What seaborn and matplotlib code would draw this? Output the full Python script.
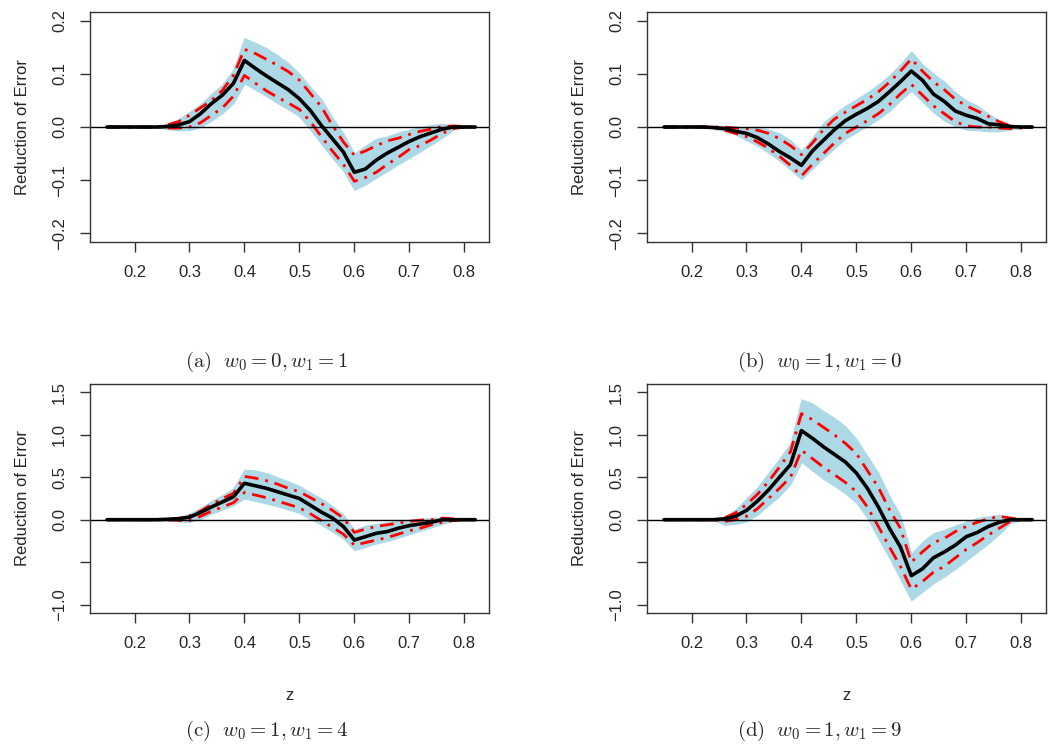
import numpy as np
import pandas as pd
import matplotlib
matplotlib.use('Agg')
import matplotlib.pyplot as plt
import seaborn as sns

# grid of z values
z = [0.15, 0.20, 0.22, 0.24, 0.26, 0.28, 0.30, 0.32, 0.34, 0.36, 0.38, 0.40,
     0.42, 0.44, 0.46, 0.48, 0.50, 0.52, 0.54, 0.56, 0.58, 0.60, 0.62, 0.64,
     0.66, 0.68, 0.70, 0.72, 0.74, 0.76, 0.78, 0.80, 0.82]

# (a) w0=0, w1=1
a_mean = [0, 0, 0, 0, 0.001, 0.004, 0.010, 0.025, 0.044, 0.060, 0.082, 0.125,
          0.110, 0.096, 0.083, 0.070, 0.053, 0.031, 0.003, -0.022, -0.047, -0.085, -0.079, -0.062,
          -0.049, -0.038, -0.027, -0.018, -0.011, -0.004, 0, 0, 0]
a_red_hi = [0, 0, 0, 0, 0.004, 0.010, 0.022, 0.036, 0.050, 0.069, 0.097, 0.146,
            0.138, 0.127, 0.116, 0.104, 0.088, 0.063, 0.038, 0.003, -0.028, -0.053, -0.045, -0.035,
            -0.026, -0.021, -0.014, -0.008, -0.004, 0.001, 0.002, 0.001, 0]
a_red_lo = [0, 0, 0, 0, -0.002, -0.002, 0.000, 0.008, 0.022, 0.036, 0.058, 0.097,
            0.082, 0.068, 0.056, 0.045, 0.033, 0.010, -0.018, -0.045, -0.070, -0.102, -0.095, -0.085,
            -0.070, -0.057, -0.042, -0.035, -0.024, -0.012, -0.003, 0, 0]
a_band_hi = [0, 0, 0, 0, 0.006, 0.015, 0.028, 0.043, 0.062, 0.080, 0.108, 0.167,
             0.158, 0.148, 0.135, 0.120, 0.100, 0.075, 0.052, 0.018, -0.012, -0.050, -0.035, -0.022,
             -0.018, -0.010, -0.005, 0.000, 0.004, 0.006, 0.002, 0, 0]
a_band_lo = [0, 0, 0, 0, -0.004, -0.006, -0.006, 0.000, 0.012, 0.026, 0.045, 0.082,
             0.070, 0.058, 0.045, 0.033, 0.020, -0.005, -0.032, -0.058, -0.082, -0.118, -0.108, -0.095,
             -0.083, -0.070, -0.058, -0.046, -0.033, -0.020, -0.005, 0, 0]

# (b) w0=1, w1=0
b_mean = [0, 0, 0, -0.001, -0.003, -0.008, -0.012, -0.020, -0.032, -0.046, -0.058, -0.072,
          -0.045, -0.025, -0.005, 0.012, 0.024, 0.035, 0.048, 0.066, 0.085, 0.105, 0.088, 0.062,
          0.048, 0.030, 0.022, 0.016, 0.006, 0.004, 0.001, 0, 0]
b_red_hi = [0, 0, 0, 0, 0.000, -0.002, -0.003, -0.006, -0.012, -0.022, -0.035, -0.052,
            -0.030, -0.005, 0.015, 0.028, 0.040, 0.052, 0.066, 0.084, 0.105, 0.128, 0.105, 0.085,
            0.070, 0.052, 0.040, 0.030, 0.020, 0.010, 0.002, 0.000, 0]
b_red_lo = [0, 0, 0, -0.002, -0.006, -0.012, -0.018, -0.028, -0.040, -0.055, -0.072, -0.092,
            -0.070, -0.050, -0.030, -0.012, 0.000, 0.012, 0.025, 0.042, 0.062, 0.080, 0.060, 0.040,
            0.025, 0.010, 0.002, 0.000, 0.000, -0.002, -0.003, -0.002, 0]
b_band_hi = [0, 0, 0, 0.001, 0.002, 0.000, -0.001, 0.000, -0.005, -0.012, -0.025, -0.045,
             -0.020, 0.008, 0.025, 0.040, 0.052, 0.065, 0.080, 0.097, 0.118, 0.142, 0.118, 0.100,
             0.085, 0.065, 0.050, 0.040, 0.025, 0.012, 0.003, 0, 0]
b_band_lo = [0, 0, 0, -0.003, -0.008, -0.014, -0.025, -0.035, -0.048, -0.063, -0.080, -0.098,
             -0.078, -0.058, -0.040, -0.022, -0.010, 0.002, 0.015, 0.030, 0.050, 0.068, 0.048, 0.028,
             0.012, 0.002, -0.005, -0.006, -0.008, -0.008, -0.005, -0.002, 0]

# (c) w0=1, w1=4
c_mean = [0, 0, 0, 0, 0.005, 0.012, 0.030, 0.085, 0.150, 0.210, 0.270, 0.430,
          0.400, 0.370, 0.330, 0.290, 0.250, 0.170, 0.090, 0.020, -0.080, -0.240, -0.200, -0.160,
          -0.140, -0.100, -0.070, -0.050, -0.030, 0.000, 0.000, 0, 0]
c_red_hi = [0, 0, 0, 0, 0.003, 0.015, 0.045, 0.100, 0.180, 0.250, 0.310, 0.510,
            0.490, 0.460, 0.420, 0.370, 0.330, 0.260, 0.190, 0.110, 0.020, -0.150, -0.110, -0.080,
            -0.060, -0.040, -0.020, -0.005, 0.000, 0.020, 0.010, 0, 0]
c_red_lo = [0, 0, 0, 0, -0.003, -0.008, -0.010, 0.040, 0.100, 0.150, 0.200, 0.320,
            0.290, 0.260, 0.220, 0.180, 0.140, 0.070, -0.010, -0.090, -0.170, -0.300, -0.270, -0.240,
            -0.210, -0.170, -0.130, -0.100, -0.060, -0.030, -0.010, 0, 0]
c_band_hi = [0, 0, 0, 0, 0.010, 0.030, 0.070, 0.140, 0.220, 0.290, 0.370, 0.590,
             0.580, 0.550, 0.500, 0.450, 0.400, 0.320, 0.250, 0.160, 0.060, -0.120, -0.070, -0.050,
             -0.030, -0.010, 0.000, 0.010, 0.020, 0.030, 0.010, 0, 0]
c_band_lo = [0, 0, 0, 0, -0.010, -0.020, -0.030, 0.010, 0.070, 0.120, 0.170, 0.250,
             0.220, 0.190, 0.160, 0.120, 0.080, 0.010, -0.060, -0.140, -0.220, -0.360, -0.320, -0.280,
             -0.250, -0.210, -0.170, -0.130, -0.090, -0.050, -0.010, 0, 0]

# (d) w0=1, w1=9
d_mean = [0, 0, 0, 0, 0.010, 0.040, 0.110, 0.220, 0.350, 0.500, 0.650, 1.050,
          0.960, 0.860, 0.770, 0.680, 0.550, 0.370, 0.150, -0.100, -0.320, -0.660, -0.580, -0.450,
          -0.380, -0.300, -0.200, -0.150, -0.080, -0.030, 0.000, 0, 0]
d_red_hi = [0, 0, 0, 0, 0.020, 0.080, 0.180, 0.300, 0.450, 0.620, 0.800, 1.250,
            1.180, 1.090, 1.000, 0.900, 0.780, 0.580, 0.380, 0.120, -0.100, -0.500, -0.380, -0.270,
            -0.220, -0.140, -0.080, -0.030, 0.010, 0.040, 0.020, 0, 0]
d_red_lo = [0, 0, 0, 0, -0.020, 0.000, 0.040, 0.130, 0.250, 0.370, 0.500, 0.820,
            0.720, 0.620, 0.530, 0.440, 0.330, 0.150, -0.080, -0.320, -0.550, -0.820, -0.730, -0.620,
            -0.550, -0.450, -0.350, -0.270, -0.180, -0.100, -0.020, 0, 0]
d_band_hi = [0, 0, 0, 0, 0.040, 0.120, 0.250, 0.380, 0.550, 0.720, 0.900, 1.420,
             1.370, 1.280, 1.200, 1.100, 0.950, 0.750, 0.550, 0.280, 0.050, -0.400, -0.260, -0.160,
             -0.120, -0.070, -0.020, 0.020, 0.040, 0.060, 0.020, 0, 0]
d_band_lo = [0, 0, 0, 0, -0.060, -0.050, -0.020, 0.060, 0.170, 0.280, 0.420, 0.680,
             0.580, 0.480, 0.400, 0.310, 0.200, 0.020, -0.220, -0.450, -0.700, -0.950, -0.850, -0.750,
             -0.670, -0.580, -0.480, -0.380, -0.280, -0.170, -0.040, 0, 0]

captions = [r'$\mathrm{(a)}\ \ w_0 = 0, w_1 = 1$', r'$\mathrm{(b)}\ \ w_0 = 1, w_1 = 0$',
            r'$\mathrm{(c)}\ \ w_0 = 1, w_1 = 4$', r'$\mathrm{(d)}\ \ w_0 = 1, w_1 = 9$']
x_ticks = [0.2, 0.3, 0.4, 0.5, 0.6, 0.7, 0.8]
y_ticks_top = [-0.2, -0.1, 0.0, 0.1, 0.2]
y_labels_top = ['\u22120.2', '\u22120.1', '0.0', '0.1', '0.2']
y_ticks_bot = [-1.0, -0.5, 0.0, 0.5, 1.0, 1.5]
y_labels_bot = ['\u22121.0', '', '0.0', '0.5', '1.0', '1.5']

sns.set_style('ticks')
plt.rcParams['font.family'] = ['Liberation Sans', 'DejaVu Sans']
plt.rcParams['mathtext.fontset'] = 'cm'

fig = plt.figure(figsize=(10.5, 7.45), dpi=100)
W, H = 1050, 745
boxes = [(90, 12, 489, 242), (647, 12, 1046, 242), (90, 384, 489, 613), (647, 384, 1046, 613)]
cap_pos = [(267, 362), (820, 362), (267, 731), (820, 731)]

panels = [
    (a_mean, a_red_hi, a_red_lo, a_band_hi, a_band_lo),
    (b_mean, b_red_hi, b_red_lo, b_band_hi, b_band_lo),
    (c_mean, c_red_hi, c_red_lo, c_band_hi, c_band_lo),
    (d_mean, d_red_hi, d_red_lo, d_band_hi, d_band_lo),
]

for i, (mean, rhi, rlo, bhi, blo) in enumerate(panels):
    l, t, r, b = boxes[i]
    ax = fig.add_axes([l / W, 1 - b / H, (r - l) / W, (b - t) / H])
    df = pd.DataFrame({'z': z, 'mean': mean, 'rhi': rhi, 'rlo': rlo, 'bhi': bhi, 'blo': blo})
    ax.fill_between(df['z'], df['blo'], df['bhi'], color='#ADD8E6', lw=0.8, edgecolor='#ADD8E6')
    sns.lineplot(data=df, x='z', y='rhi', ax=ax, color='red', lw=2, dashes=False)
    sns.lineplot(data=df, x='z', y='rlo', ax=ax, color='red', lw=2, dashes=False)
    for ln in ax.lines:
        ln.set_dashes([5, 2.5, 1, 2.5])
    sns.lineplot(data=df, x='z', y='mean', ax=ax, color='black', lw=2.6)
    ax.axhline(0, color='black', lw=1)

    ax.set_xlim(0.119, 0.845)
    ax.set_xticks(x_ticks)
    ax.set_xticklabels([f'{v:.1f}' for v in x_ticks])
    if i < 2:
        ax.set_ylim(-0.216, 0.216)
        ax.set_yticks(y_ticks_top)
        ax.set_yticklabels(y_labels_top, rotation=90, va='center')
        ax.set_xlabel('')
    else:
        ax.set_ylim(-1.1, 1.6)
        ax.set_yticks(y_ticks_bot)
        ax.set_yticklabels(y_labels_bot, rotation=90, va='center')
        ax.set_xlabel('z', fontsize=12, labelpad=27)
    ax.set_ylabel('Reduction of Error', fontsize=12, labelpad=16)
    ax.tick_params(direction='out', length=7.5, width=1, labelsize=12, color='#333333', pad=9)
    for sp in ax.spines.values():
        sp.set_visible(True)
        sp.set_color('#333333')
        sp.set_linewidth(1)

    cx, cy = cap_pos[i]
    fig.text(cx / W, 1 - cy / H, captions[i], ha='center', va='center', fontsize=15)

fig.savefig('out.png', dpi=100)
